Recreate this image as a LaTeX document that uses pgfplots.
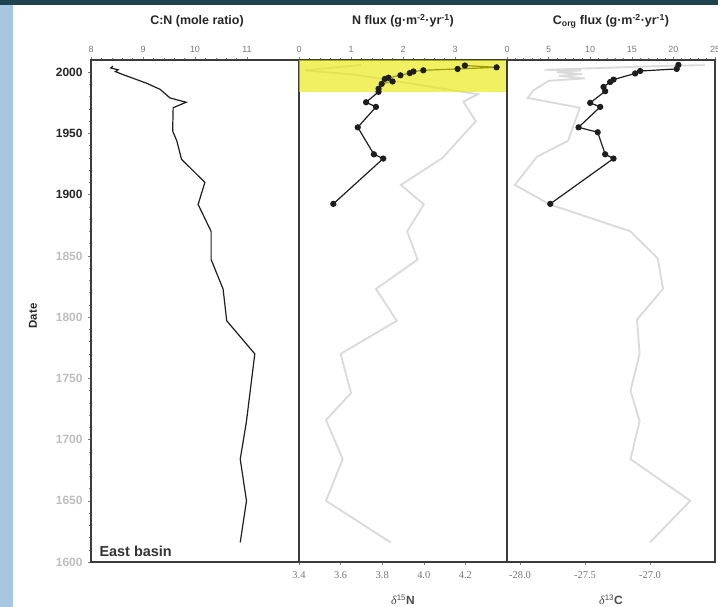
\documentclass[border=0pt]{standalone}
\usepackage{fontspec}
\setmainfont{Liberation Sans}
\newfontfamily\serifnum{Liberation Serif}
\usepackage{pgfplots}
\pgfplotsset{compat=1.18}
\definecolor{framec}{RGB}{60,60,60}
\definecolor{lgray}{RGB}{218,218,218}
\definecolor{dline}{RGB}{30,30,30}
\definecolor{lightlab}{RGB}{190,190,190}
\definecolor{toplab}{RGB}{120,120,120}
\definecolor{leftstrip}{RGB}{166,199,224}
\definecolor{topstrip}{RGB}{32,68,78}
\definecolor{hl}{RGB}{232,232,0}
\pgfplotsset{
  panel/.style={
    scale only axis, width=208bp, height=502bp, anchor=north west,
    ymin=1600, ymax=2010,
    axis line style={framec, line width=1.6bp},
    tick align=outside,
    major tick length=3bp, minor tick length=1.8bp,
    tick style={toplab, line width=0.5bp},
    /pgf/number format/assume math mode=true,
  },
  toptick/.style={xtick pos=right, xticklabel pos=right,
    xticklabel style={font=\fontsize{9}{10}\selectfont, text=toplab, yshift=1bp}},
  bottick/.style={xtick pos=left, xticklabel pos=left, ytick=\empty,
    xticklabel style={font=\fontsize{10.5}{11}\selectfont\serifnum, text=toplab, yshift=-3bp}},
  blackser/.style={dline, line width=1.2bp, mark=*, mark size=2.5bp, mark options={fill=dline, draw=dline}},
  grayser/.style={lgray, line width=1.8bp, no markers},
}
\begin{document}
\begin{tikzpicture}
\useasboundingbox (0,0) rectangle (718bp,-607bp);
\fill[white] (0,0) rectangle (718bp,-607bp);
\fill[leftstrip] (0,0) rectangle (13bp,-607bp);
\fill[topstrip] (0,0) rectangle (718bp,-5bp);

% Panel 1: C:N
\begin{axis}[panel, toptick, at={(91bp,-60bp)},
  xmin=8, xmax=12, xtick={8,9,10,11}, minor x tick num=4,
  ytick pos=left,
  ytick={1600,1650,1700,1750,1800,1850,1900,1950,2000},
  yticklabels={{\color{lightlab}1600},{\color{lightlab}1650},{\color{lightlab}1700},{\color{lightlab}1750},{\color{lightlab}1800},{\color{lightlab}1850},1900,1950,2000},
  minor y tick num=4,
  yticklabel style={font=\bfseries\fontsize{12}{13}\selectfont, xshift=-2bp, text=black!85},
]
\addplot[dline, line width=1.2bp] coordinates {
(8.42,2005)(8.38,2003.5)(8.52,2002)(8.47,2000.5)(8.62,1998)(9.07,1991)(9.33,1986)(9.52,1979)(9.83,1975.5)(9.58,1971)(9.57,1952)(9.65,1944)(9.74,1929)(10.19,1910)(10.06,1892)(10.31,1870)(10.31,1847)(10.54,1823)(10.61,1797)(11.15,1770)(10.99,1715)(10.87,1684)(10.99,1650)(10.87,1616)};
\end{axis}

% Panel 2: delta15N (bottom axis)
\begin{axis}[panel, bottick, at={(299bp,-60bp)},
  xmin=3.4, xmax=4.4, xtick={3.4,3.6,3.8,4.0,4.2},
  xticklabel style={/pgf/number format/.cd, fixed, fixed zerofill, precision=1},
]
\addplot[grayser] coordinates {
(3.70,2006)(3.43,2001.5)(3.67,1998)(4.26,1982)(4.19,1976)(4.25,1960)(4.09,1930)(3.89,1908)(4.00,1892)(3.92,1870)(3.97,1847)(3.77,1823)(3.87,1797)(3.60,1770)(3.65,1738)(3.53,1716)(3.61,1684)(3.53,1650)(3.84,1616)};
\end{axis}
% Panel 2: N flux (top axis)
\begin{axis}[panel, toptick, at={(299bp,-60bp)}, ytick=\empty,
  xmin=0, xmax=4, xtick={0,1,2,3}, minor x tick num=4,
]
\addplot[blackser] coordinates {
(3.19,2005.5)(3.80,2004)(3.05,2002.7)(2.39,2001.6)(2.20,2000.6)(2.13,1999.3)(1.95,1997.5)(1.72,1995.5)(1.65,1994.5)(1.80,1992.5)(1.59,1990.5)(1.53,1986.5)(1.53,1984)(1.29,1975.5)(1.48,1971.7)(1.13,1955)(1.44,1933)(1.62,1929.5)(0.66,1892.5)};
\fill[hl, opacity=0.62] (axis cs:0,1984) rectangle (axis cs:4,2010);
\end{axis}

% Panel 3: delta13C (bottom axis)
\begin{axis}[panel, bottick, at={(507bp,-60bp)},
  xmin=-28.1, xmax=-26.5, xtick={-28,-27.5,-27},
  xticklabel style={/pgf/number format/.cd, fixed, fixed zerofill, precision=1},
]
\addplot[grayser] coordinates {
(-26.58,2005.8)(-26.85,2005.3)(-27.81,2002)(-27.53,2001.5)(-27.72,2000)(-27.52,1998.5)(-27.70,1997)(-27.50,1995)(-27.78,1993)(-27.90,1985)(-27.94,1979)(-27.54,1971)(-27.63,1944)(-27.87,1931)(-28.04,1908)(-27.77,1892)(-27.15,1870)(-26.94,1848)(-26.90,1823)(-27.10,1798)(-27.08,1770)(-27.15,1740)(-27.08,1715)(-27.15,1684)(-26.69,1650)(-27.00,1616)};
\end{axis}
% Panel 3: Corg flux (top axis)
\begin{axis}[panel, toptick, at={(507bp,-60bp)}, ytick=\empty,
  xmin=0, xmax=25, xtick={0,5,10,15,20,25}, minor x tick num=4,
]
\addplot[blackser] coordinates {
(20.6,2006)(20.4,2002.7)(16.0,2001)(15.4,1999)(12.8,1994)(12.4,1992)(11.6,1988)(11.8,1984.5)(10.0,1975)(11.2,1971.7)(8.6,1955)(10.9,1951)(11.8,1933)(12.8,1929.5)(5.2,1892.5)};
\end{axis}

% Titles and labels
\node[font=\bfseries\fontsize{12.5}{14}\selectfont, text=black!85] at (197bp,-21bp) {C:N (mole ratio)};
\node[font=\bfseries\fontsize{12.5}{14}\selectfont, text=black!85] at (403bp,-21bp) {N flux (g·m\textsuperscript{-2}·yr\textsuperscript{-1})};
\node[font=\bfseries\fontsize{12.5}{14}\selectfont, text=black!85] at (611bp,-21bp) {C\textsubscript{org} flux (g·m\textsuperscript{-2}·yr\textsuperscript{-1})};
\node[rotate=90, font=\bfseries\fontsize{11.5}{12}\selectfont, text=black!85] at (33bp,-316bp) {Date};
\node[anchor=base west, font=\bfseries\fontsize{14.5}{16}\selectfont, text=black!80] at (96bp,-556bp) {East basin};
\node[font=\fontsize{12}{14}\selectfont, text=black!70] at (403bp,-600bp) {{\serifnum\itshape δ}\textsuperscript{15}\textbf{N}};
\node[font=\fontsize{12}{14}\selectfont, text=black!70] at (611bp,-600bp) {{\serifnum\itshape δ}\textsuperscript{13}\textbf{C}};
\end{tikzpicture}
\end{document}
